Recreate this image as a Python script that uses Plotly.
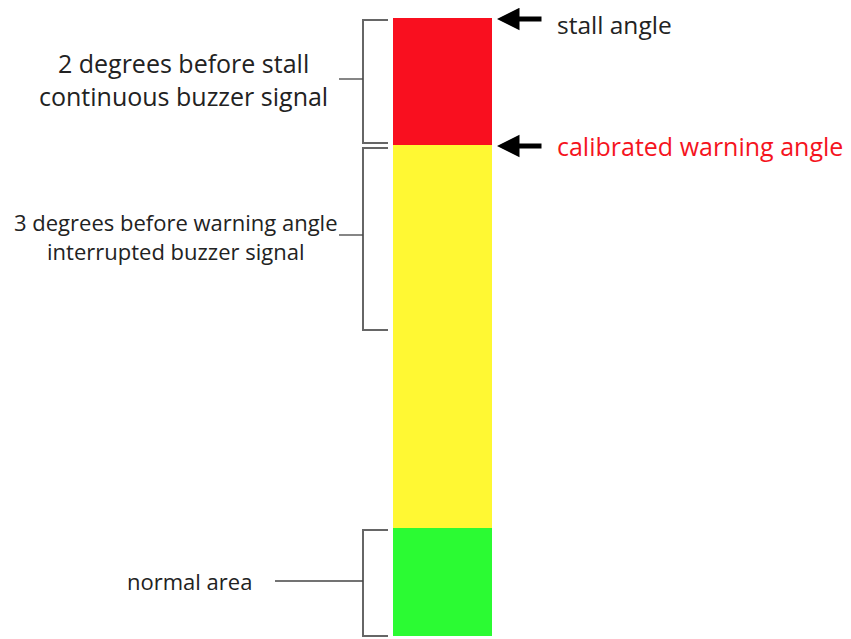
import plotly.graph_objects as go

# Zones of the angle-of-attack indicator (vertical position, top -> bottom)
zone_names = ["stall zone", "warning zone", "normal area"]
zone_top = [18, 145, 528]
zone_bottom = [145, 528, 636]
zone_colors = ["#F90F1F", "#FFF833", "#2BFB33"]

# Brackets: (top, bottom, label-tick y, label tick start x)
bracket_top = [20, 148, 530]
bracket_bottom = [143, 330, 636]
bracket_mid = [79, 235, 581]
bracket_tick_start = [339, 339, 275]

# Bracket labels
bracket_labels = [
    "2 degrees before stall<br>continuous buzzer signal",
    "3 degrees before warning angle<br>interrupted buzzer signal",
    "normal area",
]
bracket_label_x = [183, 175.5, 189.5]
bracket_label_y = [79, 236, 581]
bracket_label_size = [25, 22, 22]

# Arrow markers on the right
marker_labels = ["stall angle", "calibrated warning angle"]
marker_y = [19, 146]
marker_label_y = [24, 146]
marker_colors = ["#222222", "#F5141E"]
marker_size = [24.5, 25]

BAR_LEFT, BAR_RIGHT = 393, 492
BR_X, BR_END = 363, 388
PAGE_OFFSET = 8  # default body margin of the html page

fig = go.Figure()

for name, t, b, c in zip(zone_names, zone_top, zone_bottom, zone_colors):
    fig.add_trace(go.Bar(
        x=[(BAR_LEFT + BAR_RIGHT) / 2], y=[b - t], base=[t], width=[BAR_RIGHT - BAR_LEFT],
        marker=dict(color=c, line=dict(width=0)), name=name, showlegend=False,
        hoverinfo="skip",
    ))

for t, b, m, s in zip(bracket_top, bracket_bottom, bracket_mid, bracket_tick_start):
    fig.add_trace(go.Scatter(
        x=[BR_END, BR_X, BR_X, BR_END], y=[t, t, b, b], mode="lines",
        line=dict(color="#666666", width=2), showlegend=False, hoverinfo="skip",
    ))
    fig.add_trace(go.Scatter(
        x=[s, BR_X], y=[m, m], mode="lines",
        line=dict(color="#444444", width=1.3), showlegend=False, hoverinfo="skip",
    ))

for txt, x, y, sz in zip(bracket_labels, bracket_label_x, bracket_label_y, bracket_label_size):
    fig.add_annotation(x=x, y=y, text=txt, showarrow=False, xanchor="center", yanchor="middle",
                       font=dict(family="Open Sans", size=sz, color="#222222"), align="center")

for txt, y, ly, c, sz in zip(marker_labels, marker_y, marker_label_y, marker_colors, marker_size):
    fig.add_annotation(x=497, y=y, ax=543, ay=y, axref="x", ayref="y", xref="x", yref="y",
                       text="", showarrow=True, arrowhead=2, arrowsize=0.9, arrowwidth=5,
                       arrowcolor="black")
    fig.add_annotation(x=555, y=ly, text=txt, showarrow=False, xanchor="left", yanchor="middle",
                       font=dict(family="Open Sans", size=sz, color=c))

fig.update_layout(
    width=851, height=639, margin=dict(l=0, r=0, t=0, b=0),
    paper_bgcolor="white", plot_bgcolor="white", barmode="overlay",
    xaxis=dict(range=[PAGE_OFFSET, 851 + PAGE_OFFSET], visible=False, fixedrange=True),
    yaxis=dict(range=[639 + PAGE_OFFSET, PAGE_OFFSET], visible=False, fixedrange=True),
)

fig.write_html("out.html")
